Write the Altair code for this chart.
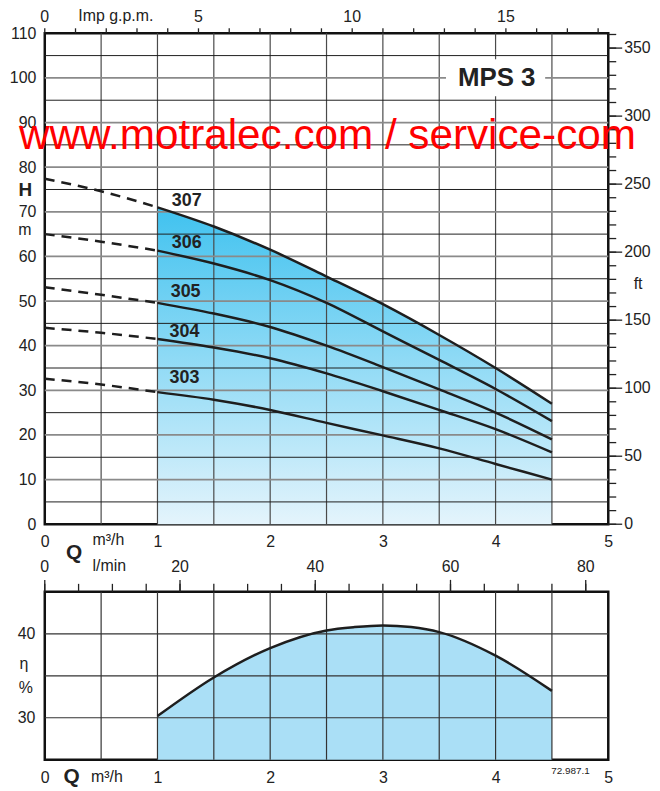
import altair as alt
import pandas as pd

# ---------------- data ----------------
Q_HEAD = [0, 0.5, 1, 1.5, 2, 2.5, 3, 3.5, 4, 4.5]
H_307 = [77.4, 74.6, 71.0, 66.7, 61.5, 55.5, 49.3, 42.4, 35.0, 27.0]
H_306 = [65.0, 63.3, 61.3, 58.4, 54.7, 49.6, 43.2, 36.8, 30.3, 23.1]
H_305 = [53.1, 51.4, 49.6, 47.2, 44.2, 40.0, 35.2, 30.2, 25.0, 19.0]
H_304 = [44.0, 42.9, 41.5, 39.6, 37.2, 33.8, 29.8, 25.6, 21.3, 16.1]
H_303 = [32.6, 31.3, 29.6, 27.9, 25.6, 22.7, 19.9, 17.0, 13.5, 10.0]
PUMPS = ["307", "306", "305", "304", "303"]
LABEL_Q = [1.26, 1.26, 1.25, 1.24, 1.24]
LABEL_H = [72.5, 62.9, 52.1, 43.0, 32.8]

Q_EFF = [1, 1.5, 2, 2.5, 2.75, 3, 3.25, 3.5, 4, 4.5]
EFF = [30.2, 34.8, 38.3, 40.4, 40.8, 41.0, 40.8, 40.2, 37.4, 33.2]

Q_TICKS = [0, 1, 2, 3, 4, 5]
H_TICKS = [0, 10, 20, 30, 40, 50, 60, 70, 80, 90, 100, 110]
FT_LABEL_TICKS = [0, 50, 100, 150, 200, 250, 300, 350]
FT_MINOR_TICKS = list(range(0, 361, 10))
GPM_LABEL_TICKS = [0, 5, 10, 15]
GPM_TICKS = list(range(0, 19))
LMIN_LABEL_TICKS = [0, 20, 40, 60, 80]
LMIN_MINOR_TICKS = list(range(0, 81, 5))
EFF_TICKS = [30, 40]
GRID_Q = [0.5, 1, 1.5, 2, 2.5, 3, 3.5, 4, 4.5]
GRID_H_MAJOR = [10, 20, 30, 40, 50, 60, 70, 80, 90, 100]
GRID_H_MINOR = [5, 15, 25, 35, 45, 55, 65, 75, 85, 95, 105]
GRID_EFF = [30, 35, 40]

M_PER_FT = 0.3048
GPM_PER_M3H = 3.666
LMIN_PER_M3H = 1000 / 60

# ---------------- tables ----------------
H_SERIES = [H_307, H_306, H_305, H_304, H_303]
dash_rows, solid_rows = [], []
for name, hs in zip(PUMPS, H_SERIES):
    for q, h in zip(Q_HEAD, hs):
        if q <= 1:
            dash_rows.append({"pump": name, "q": q, "h": h})
        if q >= 1:
            solid_rows.append({"pump": name, "q": q, "h": h})
df_dash = pd.DataFrame(dash_rows)
df_solid = pd.DataFrame(solid_rows)
df_fill = pd.DataFrame({"q": Q_HEAD, "h": H_307})
df_fill = df_fill[df_fill["q"] >= 1]
df_labels = pd.DataFrame({"pump": PUMPS, "q": LABEL_Q, "h": LABEL_H})
df_eff = pd.DataFrame({"q": Q_EFF, "e": EFF})

F = "Liberation Sans"
INK = "#1e1e1e"
TXT = "#222"
W, H_TOP, H_BOT = 567, 494, 169

X_SC = alt.Scale(domain=[0, 5], nice=False, zero=False)
Y_SC = alt.Scale(domain=[0, 110], nice=False, zero=False)
X_AX = alt.Axis(values=Q_TICKS, ticks=False, tickSize=0, domain=False, grid=False,
                labelPadding=9, title=None, labelFlush=False)
Y_AX = alt.Axis(values=H_TICKS, ticks=False, tickSize=0, domain=False, grid=False,
                labelPadding=9, title=None)


def XT():
    return alt.X("q:Q", scale=X_SC, axis=X_AX)


def YT():
    return alt.Y("h:Q", scale=Y_SC, axis=Y_AX)


def ptext(txt, px, py, size=16, weight="normal", align="center", baseline="middle",
          color=TXT, **kw):
    return alt.Chart(pd.DataFrame({"t": [txt]})).mark_text(
        font=F, fontSize=size, fontWeight=weight, align=align, baseline=baseline,
        color=color, **kw
    ).encode(text="t:N", x=alt.value(px), y=alt.value(py))


GRAD = alt.Gradient(
    gradient="linear",
    stops=[alt.GradientStop(color="#40c2ef", offset=0),
           alt.GradientStop(color="#e4f4fc", offset=1)],
    x1=1, x2=1, y1=0, y2=1,
)

fill = alt.Chart(df_fill).mark_area(color=GRAD, interpolate="monotone").encode(x=XT(), y=YT())
grid_v = alt.Chart(pd.DataFrame({"q": GRID_Q})).mark_rule(color="#4a4a4a", strokeWidth=1.2).encode(x=XT())
grid_hmaj = alt.Chart(pd.DataFrame({"h": GRID_H_MAJOR})).mark_rule(color="#8a8a8a", strokeWidth=1.8).encode(y=YT())
grid_hmin = alt.Chart(pd.DataFrame({"h": GRID_H_MINOR})).mark_rule(color="#1e1e1e", strokeWidth=1).encode(y=YT())
whitebox = alt.Chart(pd.DataFrame({"q": [3.56], "q2": [4.44], "h": [95.9], "h2": [104.2]})).mark_rect(
    color="white").encode(x=XT(), x2="q2:Q", y=YT(), y2="h2:Q")
dashed = alt.Chart(df_dash).mark_line(color=INK, strokeWidth=2.5, strokeDash=[10, 7],
                                      interpolate="monotone").encode(x=XT(), y=YT(), detail="pump:N")
solid = alt.Chart(df_solid).mark_line(color=INK, strokeWidth=2.5,
                                      interpolate="monotone").encode(x=XT(), y=YT(), detail="pump:N")
labels = alt.Chart(df_labels).mark_text(font=F, fontSize=18, fontWeight="bold", color=TXT).encode(
    x=XT(), y=YT(), text="pump:N")
mps = alt.Chart(pd.DataFrame({"q": [4.01], "h": [100.0], "t": ["MPS 3"]})).mark_text(
    font=F, fontSize=26, fontWeight="bold", color=TXT).encode(x=XT(), y=YT(), text="t:N")

# secondary scales (ft on the right, Imp g.p.m. on top) converted into the main scales
ft_min = alt.Chart(pd.DataFrame({"ft": FT_MINOR_TICKS})).transform_calculate(
    h=f"datum.ft * {M_PER_FT}").mark_rule(color=TXT, strokeWidth=1.3).encode(
    y=YT(), x=alt.value(W), x2=alt.value(W + 8))
ft_maj = alt.Chart(pd.DataFrame({"ft": FT_LABEL_TICKS})).transform_calculate(
    h=f"datum.ft * {M_PER_FT}").mark_rule(color=TXT, strokeWidth=1.3).encode(
    y=YT(), x=alt.value(W), x2=alt.value(W + 14))
ft_lab = alt.Chart(pd.DataFrame({"ft": FT_LABEL_TICKS})).transform_calculate(
    h=f"datum.ft * {M_PER_FT}").mark_text(font=F, fontSize=16, color=TXT, align="left",
                                          baseline="middle").encode(
    y=YT(), x=alt.value(W + 16), text="ft:Q")
gpm_tk = alt.Chart(pd.DataFrame({"g": GPM_TICKS})).transform_calculate(
    q=f"datum.g / {GPM_PER_M3H}").mark_rule(color=TXT, strokeWidth=1.3).encode(
    x=XT(), y=alt.value(-5), y2=alt.value(0))
gpm_lab = alt.Chart(pd.DataFrame({"g": GPM_LABEL_TICKS})).transform_calculate(
    q=f"datum.g / {GPM_PER_M3H}").mark_text(font=F, fontSize=16, color=TXT, align="center",
                                            baseline="alphabetic").encode(
    x=XT(), y=alt.value(-11), text="g:Q")

top = alt.layer(
    fill, grid_v, grid_hmaj, grid_hmin, whitebox, dashed, solid, labels, mps,
    ft_min, ft_maj, ft_lab, gpm_tk, gpm_lab,
    ptext("H", -19.5, 158, size=19, weight="bold"),
    ptext("m", -20, 198),
    ptext("Imp g.p.m.", 71.5, -17),
    ptext("Q", 29.5, 523, size=21, weight="bold"),
    ptext("m³/h", 48, 510, align="left"),
    ptext("l/min", 48, 536, align="left"),
    ptext("ft", 597, 252),
    ptext("www.motralec.com / service-commercial", -26, 116, size=42.5, align="left",
          baseline="alphabetic", color="#ff0000", limit=636, ellipsis="\u200b"),
).properties(width=W, height=H_TOP)

# ---------------- bottom panel ----------------
Y_SC_B = alt.Scale(domain=[25, 45], nice=False, zero=False)
X_AX_B = alt.Axis(values=Q_TICKS, ticks=False, tickSize=0, domain=False, grid=False,
                  labelPadding=10, title=None, labelFlush=False)
Y_AX_B = alt.Axis(values=EFF_TICKS, ticks=False, tickSize=0, domain=False, grid=False,
                  labelPadding=10, title=None)


def XB():
    return alt.X("q:Q", scale=X_SC, axis=X_AX_B)


def YB():
    return alt.Y("e:Q", scale=Y_SC_B, axis=Y_AX_B)


fill_b = alt.Chart(df_eff).mark_area(color="#aadff6", interpolate="monotone").encode(
    x=XB(), y=YB(), y2=alt.datum(25))
grid_bv = alt.Chart(pd.DataFrame({"q": GRID_Q})).mark_rule(color="#333", strokeWidth=1.2).encode(x=XB())
grid_bh = alt.Chart(pd.DataFrame({"e": GRID_EFF})).mark_rule(color="#333", strokeWidth=1.2).encode(y=YB())
line_b = alt.Chart(df_eff).mark_line(color=INK, strokeWidth=2.5, interpolate="monotone").encode(x=XB(), y=YB())

lmin_min = alt.Chart(pd.DataFrame({"l": LMIN_MINOR_TICKS})).transform_calculate(
    q=f"datum.l / {LMIN_PER_M3H}").mark_rule(color=TXT, strokeWidth=1.3).encode(
    x=XB(), y=alt.value(-8), y2=alt.value(0))
lmin_maj = alt.Chart(pd.DataFrame({"l": LMIN_LABEL_TICKS})).transform_calculate(
    q=f"datum.l / {LMIN_PER_M3H}").mark_rule(color=TXT, strokeWidth=1.3).encode(
    x=XB(), y=alt.value(-12), y2=alt.value(0))
lmin_lab = alt.Chart(pd.DataFrame({"l": LMIN_LABEL_TICKS})).transform_calculate(
    q=f"datum.l / {LMIN_PER_M3H}").mark_text(font=F, fontSize=16, color=TXT, align="center",
                                             baseline="alphabetic").encode(
    x=XB(), y=alt.value(-20), text="l:Q")

bottom = alt.layer(
    fill_b, grid_bv, grid_bh, line_b, lmin_min, lmin_maj, lmin_lab,
    ptext("η", -21, 73),
    ptext("%", -19, 97),
    ptext("Q", 27, 186, size=21, weight="bold"),
    ptext("m³/h", 46.5, 186, align="left"),
    ptext("72.987.1", 529, 180, size=10),
).properties(width=W, height=H_BOT)

chart = alt.vconcat(top, bottom, spacing=68, bounds="flush").properties(
    padding={"left": 0, "top": -4, "right": 0, "bottom": 0}
).configure_view(stroke="#111", strokeWidth=2.5).configure_axis(
    labelFont=F, labelFontSize=16, labelColor=TXT, labelOverlap=False, labelFlush=False
)

chart.save("out.html", embed_options={"renderer": "svg", "actions": False})
